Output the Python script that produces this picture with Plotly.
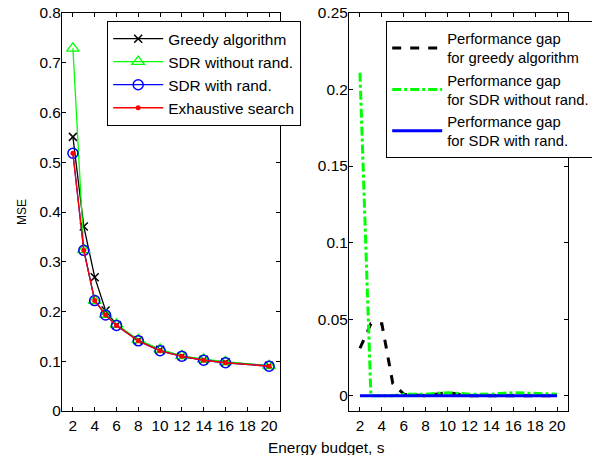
import plotly.graph_objects as go

energy = [2, 3, 4, 5, 6, 8, 10, 12, 14, 16, 20]
mse_greedy = [0.551, 0.371, 0.269, 0.202, 0.173, 0.142, 0.123, 0.110, 0.103, 0.098, 0.091]
mse_sdr_norand = [0.729, 0.324, 0.222, 0.194, 0.174, 0.143, 0.124, 0.111, 0.104, 0.099, 0.091]
mse_sdr_rand = [0.518, 0.323, 0.222, 0.193, 0.172, 0.141, 0.121, 0.110, 0.102, 0.097, 0.090]
mse_exhaustive = [0.518, 0.323, 0.222, 0.193, 0.172, 0.141, 0.121, 0.110, 0.102, 0.097, 0.090]

gap_greedy = [0.031, 0.047, 0.047, 0.008, 0.001, 0.0, 0.002, 0.0, 0.0, 0.0, 0.0]
gap_sdr_norand = [0.211, 0.0, 0.0, 0.0, 0.001, 0.001, 0.002, 0.001, 0.001, 0.002, 0.001]
gap_sdr_rand = [0.0, 0.0, 0.0, 0.0, 0.0, 0.0, 0.0, 0.0, 0.0, 0.0, 0.0]

x_ticks = [2, 4, 6, 8, 10, 12, 14, 16, 18, 20]
left_yticks = [0, 0.1, 0.2, 0.3, 0.4, 0.5, 0.6, 0.7, 0.8]
right_yticks = [0, 0.05, 0.1, 0.15, 0.2, 0.25]

FONT = "Liberation Sans, Arial, Helvetica, sans-serif"
GREEN = "#00ff00"
FS = 15.4

fig = go.Figure()

fig.add_trace(go.Scatter(x=energy, y=mse_greedy, mode="lines+markers", name="Greedy algorithm",
                         line=dict(color="black", width=1.3),
                         marker=dict(symbol="x-thin-open", size=8, line=dict(color="black", width=1.5)),
                         xaxis="x", yaxis="y", legend="legend"))
fig.add_trace(go.Scatter(x=energy, y=mse_sdr_norand, mode="lines+markers", name="SDR without rand.",
                         line=dict(color=GREEN, width=1.3),
                         marker=dict(symbol="triangle-up-open", size=11, color=GREEN, line=dict(color=GREEN, width=1.3)),
                         xaxis="x", yaxis="y", legend="legend"))
fig.add_trace(go.Scatter(x=energy, y=mse_sdr_rand, mode="lines+markers", name="SDR with rand.",
                         line=dict(color="blue", width=1.3),
                         marker=dict(symbol="circle-open", size=10, color="blue", line=dict(color="blue", width=1.5)),
                         xaxis="x", yaxis="y", legend="legend"))
fig.add_trace(go.Scatter(x=energy, y=mse_exhaustive, mode="lines+markers", name="Exhaustive search",
                         line=dict(color="red", width=1.3),
                         marker=dict(symbol="circle", size=5, color="red"),
                         xaxis="x", yaxis="y", legend="legend"))

fig.add_trace(go.Scatter(x=energy, y=gap_greedy, mode="lines", name="Performance gap<br>for greedy algorithm",
                         line=dict(color="black", width=3, dash="dash"),
                         xaxis="x2", yaxis="y2", legend="legend2"))
fig.add_trace(go.Scatter(x=energy, y=gap_sdr_norand, mode="lines", name="Performance gap<br>for SDR without rand.",
                         line=dict(color=GREEN, width=3, dash="dashdot"),
                         xaxis="x2", yaxis="y2", legend="legend2"))
fig.add_trace(go.Scatter(x=energy, y=gap_sdr_rand, mode="lines", name="Performance gap<br>for SDR with rand.",
                         line=dict(color="blue", width=3),
                         xaxis="x2", yaxis="y2", legend="legend2"))

axis_common = dict(showline=True, linecolor="black", linewidth=1.2, mirror="ticks",
                   ticks="inside", ticklen=4, tickcolor="black", tickwidth=1,
                   showgrid=False, zeroline=False,
                   tickfont=dict(family=FONT, size=FS, color="black"))

fig.update_layout(
    width=592, height=455,
    margin=dict(l=62, r=24, t=13, b=44, autoexpand=False),
    paper_bgcolor="white", plot_bgcolor="white",
    font=dict(family=FONT, size=FS, color="black"),
    xaxis=dict(domain=[0, 0.4308], range=[1, 21], tickvals=x_ticks, **axis_common),
    yaxis=dict(range=[0, 0.8], tickvals=left_yticks, anchor="x", ticklabelstandoff=-3,
               title=dict(text="MSE", font=dict(family=FONT, size=12), standoff=10), **axis_common),
    xaxis2=dict(domain=[0.5672, 1], range=[1, 21], tickvals=x_ticks, anchor="y2", **axis_common),
    yaxis2=dict(range=[-0.01, 0.25], tickvals=right_yticks, anchor="x2", ticklabelstandoff=-3, **axis_common),
    legend=dict(x=0.0889, y=0.98, xanchor="left", yanchor="top", xref="paper", yref="paper",
                bgcolor="white", bordercolor="black", borderwidth=1.2,
                font=dict(family=FONT, size=FS, color="black"), itemwidth=50, tracegroupgap=0),
    legend2=dict(x=0.6403, y=0.98, xanchor="left", yanchor="top", xref="paper", yref="paper",
                 bgcolor="white", bordercolor="black", borderwidth=1.2,
                 font=dict(family=FONT, size=14.8, color="black"), itemwidth=50, tracegroupgap=0),
    annotations=[dict(text="Energy budget, s", x=0.522, y=(411 - 447) / 398, xref="paper", yref="paper",
                      xanchor="center", yanchor="middle", showarrow=False,
                      font=dict(family=FONT, size=FS, color="black"))],
)

fig.write_html("out.html", config={"displayModeBar": False},
               post_script="document.body.style.margin='0';document.body.style.overflow='hidden';")
